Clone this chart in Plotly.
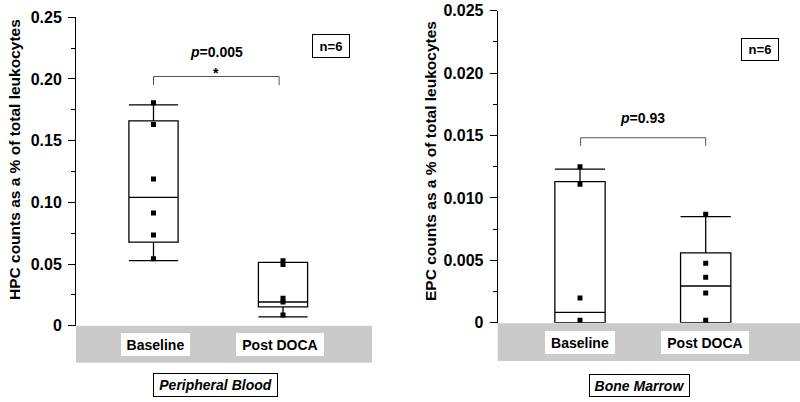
import plotly.graph_objects as go

W, H = 800, 402

groups = ["Baseline", "Post DOCA"]

# Peripheral Blood (HPC)
hpc_q1 = [0.0678, 0.0152]
hpc_median = [0.104, 0.0192]
hpc_q3 = [0.166, 0.0514]
hpc_low = [0.0527, 0.0071]
hpc_high = [0.179, 0.0514]
hpc_points_baseline = [0.1807, 0.163, 0.119, 0.0913, 0.0735, 0.0543]
hpc_points_post = [0.0527, 0.0497, 0.0222, 0.0192, 0.0087]

# Bone Marrow (EPC)
epc_q1 = [0.0, 0.0]
epc_median = [0.00083, 0.00294]
epc_q3 = [0.0113, 0.0056]
epc_low = [0.0, 0.0]
epc_high = [0.0123, 0.0085]
epc_points_baseline = [0.0125, 0.0111, 0.00198, 0.0002]
epc_points_post = [0.00869, 0.00476, 0.00364, 0.00238, 0.0002]

hpc_ticks = [0, 0.05, 0.10, 0.15, 0.20, 0.25]
hpc_ticktext = ["0", "0.05", "0.10", "0.15", "0.20", "0.25"]
hpc_minor = [0.025, 0.075, 0.125, 0.175, 0.225]
epc_ticks = [0, 0.005, 0.010, 0.015, 0.020, 0.025]
epc_ticktext = ["0", "0.005", "0.010", "0.015", "0.020", "0.025"]
epc_minor = [0.0025, 0.0075, 0.0125, 0.0175, 0.0225]

FONT = "Liberation Sans, Arial, sans-serif"


def px(x):
    return x / W


def py(y):
    return 1 - y / H


fig = go.Figure()

box_line = dict(color="black", width=1.3)

fig.add_trace(go.Box(
    x=[0, 1], q1=hpc_q1, median=hpc_median, q3=hpc_q3,
    lowerfence=hpc_low, upperfence=hpc_high,
    width=0.38, whiskerwidth=1, fillcolor="white", line=box_line,
    boxpoints=False, xaxis="x", yaxis="y", showlegend=False, hoverinfo="skip"))
fig.add_trace(go.Box(
    x=[0, 1], q1=epc_q1, median=epc_median, q3=epc_q3,
    lowerfence=epc_low, upperfence=epc_high,
    width=0.40, whiskerwidth=1, fillcolor="white", line=box_line,
    boxpoints=False, xaxis="x2", yaxis="y2", showlegend=False, hoverinfo="skip"))

mk = dict(symbol="square", size=5, color="black")
for xv, pts, xa, ya in [
    (0, hpc_points_baseline, "x", "y"),
    (1, hpc_points_post, "x", "y"),
    (0, epc_points_baseline, "x2", "y2"),
    (1, epc_points_post, "x2", "y2"),
]:
    fig.add_trace(go.Scatter(x=[xv] * len(pts), y=pts, mode="markers", marker=mk,
                             xaxis=xa, yaxis=ya, showlegend=False, hoverinfo="skip"))

# axes geometry
left_x0, left_x1 = 76, 372
left_c0, left_c1 = 153.5, 283.0
lu = left_c1 - left_c0
right_x0, right_x1 = 497.7, 800
right_c0, right_c1 = 580.0, 705.7
ru = right_c1 - right_c0

tfont = dict(family=FONT, size=16, color="black", weight="bold")
yfont = dict(family=FONT, size=15.5, color="black", weight="bold")

common_x = dict(showline=False, showgrid=False, zeroline=False, showticklabels=False, ticks="",
                automargin=False)
yax_common = dict(showline=True, linecolor="black", linewidth=1, showgrid=False, zeroline=False,
                  ticks="outside", ticklen=7, tickcolor="black", tickwidth=1, tickfont=tfont,
                  ticklabelstandoff=3, automargin=False)
fig.update_layout(
    width=W, height=H,
    margin=dict(l=0, r=0, t=0, b=0, pad=0, autoexpand=False),
    paper_bgcolor="white", plot_bgcolor="white",
    xaxis=dict(domain=[px(left_x0), px(left_x1)],
               range=[(left_x0 - left_c0) / lu, (left_x1 - left_c0) / lu], anchor="y", **common_x),
    xaxis2=dict(domain=[px(right_x0), px(right_x1)],
                range=[(right_x0 - right_c0) / ru, (right_x1 - right_c0) / ru], anchor="y2", **common_x),
    yaxis=dict(domain=[py(325.7), py(17.3)], range=[0, 0.25], anchor="x",
               tickvals=hpc_ticks, ticktext=hpc_ticktext,
               minor=dict(ticks="outside", ticklen=4, tickcolor="black", tickvals=hpc_minor, showgrid=False),
               **yax_common),
    yaxis2=dict(domain=[py(322.7), py(10.7)], range=[0, 0.025], anchor="x2",
                tickvals=epc_ticks, ticktext=epc_ticktext,
                minor=dict(ticks="outside", ticklen=4, tickcolor="black", tickvals=epc_minor, showgrid=False),
                **yax_common),
)

shapes = []
# gray category bands
shapes.append(dict(type="rect", xref="paper", yref="paper", x0=px(left_x0), x1=px(left_x1),
                   y0=py(362.7), y1=py(325.7), fillcolor="#cacaca", line=dict(width=0), layer="below"))
shapes.append(dict(type="rect", xref="paper", yref="paper", x0=px(right_x0), x1=px(right_x1),
                   y0=py(361), y1=py(323.3), fillcolor="#cacaca", line=dict(width=0), layer="below"))
# significance brackets
br = dict(color="#555555", width=1)
shapes.append(dict(type="path", xref="x", yref="y",
                   path="M 0,0.195 L 0,0.202 L 0.97,0.202 L 0.97,0.195", line=br))
shapes.append(dict(type="path", xref="x2", yref="y2",
                   path="M 0.005,0.01416 L 0.005,0.01482 L 1,0.01482 L 1,0.01416", line=br))
fig.update_layout(shapes=shapes)

ann = []
lab_font = dict(family=FONT, size=14, color="black", weight="bold")
# category labels in white boxes
for xr, c, wbox, yc in [("x", 0.013, 69, 344.2), ("x", 0.98, 88, 344.2),
                        ("x2", 0.0, 70, 342.2), ("x2", 0.995, 88, 342.2)]:
    ann.append(dict(xref=xr, yref="paper", x=c, y=py(yc), text=groups[0] if c < 0.5 else groups[1],
                    showarrow=False, font=lab_font, bgcolor="white", width=wbox, height=23,
                    borderpad=0, borderwidth=0, xanchor="center", yanchor="middle"))
# panel titles
ttl_font = dict(family=FONT, size=14, color="black", weight="bold", style="italic")
ann.append(dict(xref="paper", yref="paper", x=px(215.5), y=py(385), text="Peripheral Blood",
                showarrow=False, font=ttl_font, bgcolor="white", bordercolor="black", borderwidth=1,
                width=123, height=22, borderpad=0, xanchor="center", yanchor="middle"))
ann.append(dict(xref="paper", yref="paper", x=px(639.7), y=py(385.5), text="Bone Marrow",
                showarrow=False, font=ttl_font, bgcolor="white", bordercolor="black", borderwidth=1,
                width=99, height=21, borderpad=0, xanchor="center", yanchor="middle"))
# n=6 boxes
n_font = dict(family=FONT, size=13, color="black", weight="bold")
ann.append(dict(xref="paper", yref="paper", x=px(330.5), y=py(46.3), text="n=6", showarrow=False,
                font=n_font, bgcolor="white", bordercolor="black", borderwidth=1,
                width=36, height=22, borderpad=0, xanchor="center", yanchor="middle"))
ann.append(dict(xref="paper", yref="paper", x=px(760.2), y=py(49.2), text="n=6", showarrow=False,
                font=n_font, bgcolor="white", bordercolor="black", borderwidth=1,
                width=36, height=21, borderpad=0, xanchor="center", yanchor="middle"))
# p-values
p_font = dict(family=FONT, size=14, color="black", weight="bold")
ann.append(dict(xref="x", yref="y", x=0.485, y=0.2215, text="<i>p</i>=0.005", showarrow=False,
                font=p_font, xanchor="center", yanchor="middle"))
ann.append(dict(xref="x", yref="y", x=0.485, y=0.2045, text="*", showarrow=False,
                font=p_font, xanchor="center", yanchor="middle"))
ann.append(dict(xref="x2", yref="y2", x=0.5, y=0.01643, text="<i>p</i>=0.93", showarrow=False,
                font=p_font, xanchor="center", yanchor="middle"))
# y-axis titles
ann.append(dict(xref="paper", yref="paper", x=px(14), y=py(160), text="HPC counts as a % of total leukocytes",
                textangle=-90, showarrow=False, font=yfont, xanchor="center", yanchor="middle"))
ann.append(dict(xref="paper", yref="paper", x=px(430), y=py(161), text="EPC counts as a % of total leukocytes",
                textangle=-90, showarrow=False, font=yfont, xanchor="center", yanchor="middle"))
fig.update_layout(annotations=ann)

fig.write_html("out.html", config={"displayModeBar": False, "staticPlot": True},
               post_script="document.body.style.margin='0';document.body.style.overflow='hidden';")
